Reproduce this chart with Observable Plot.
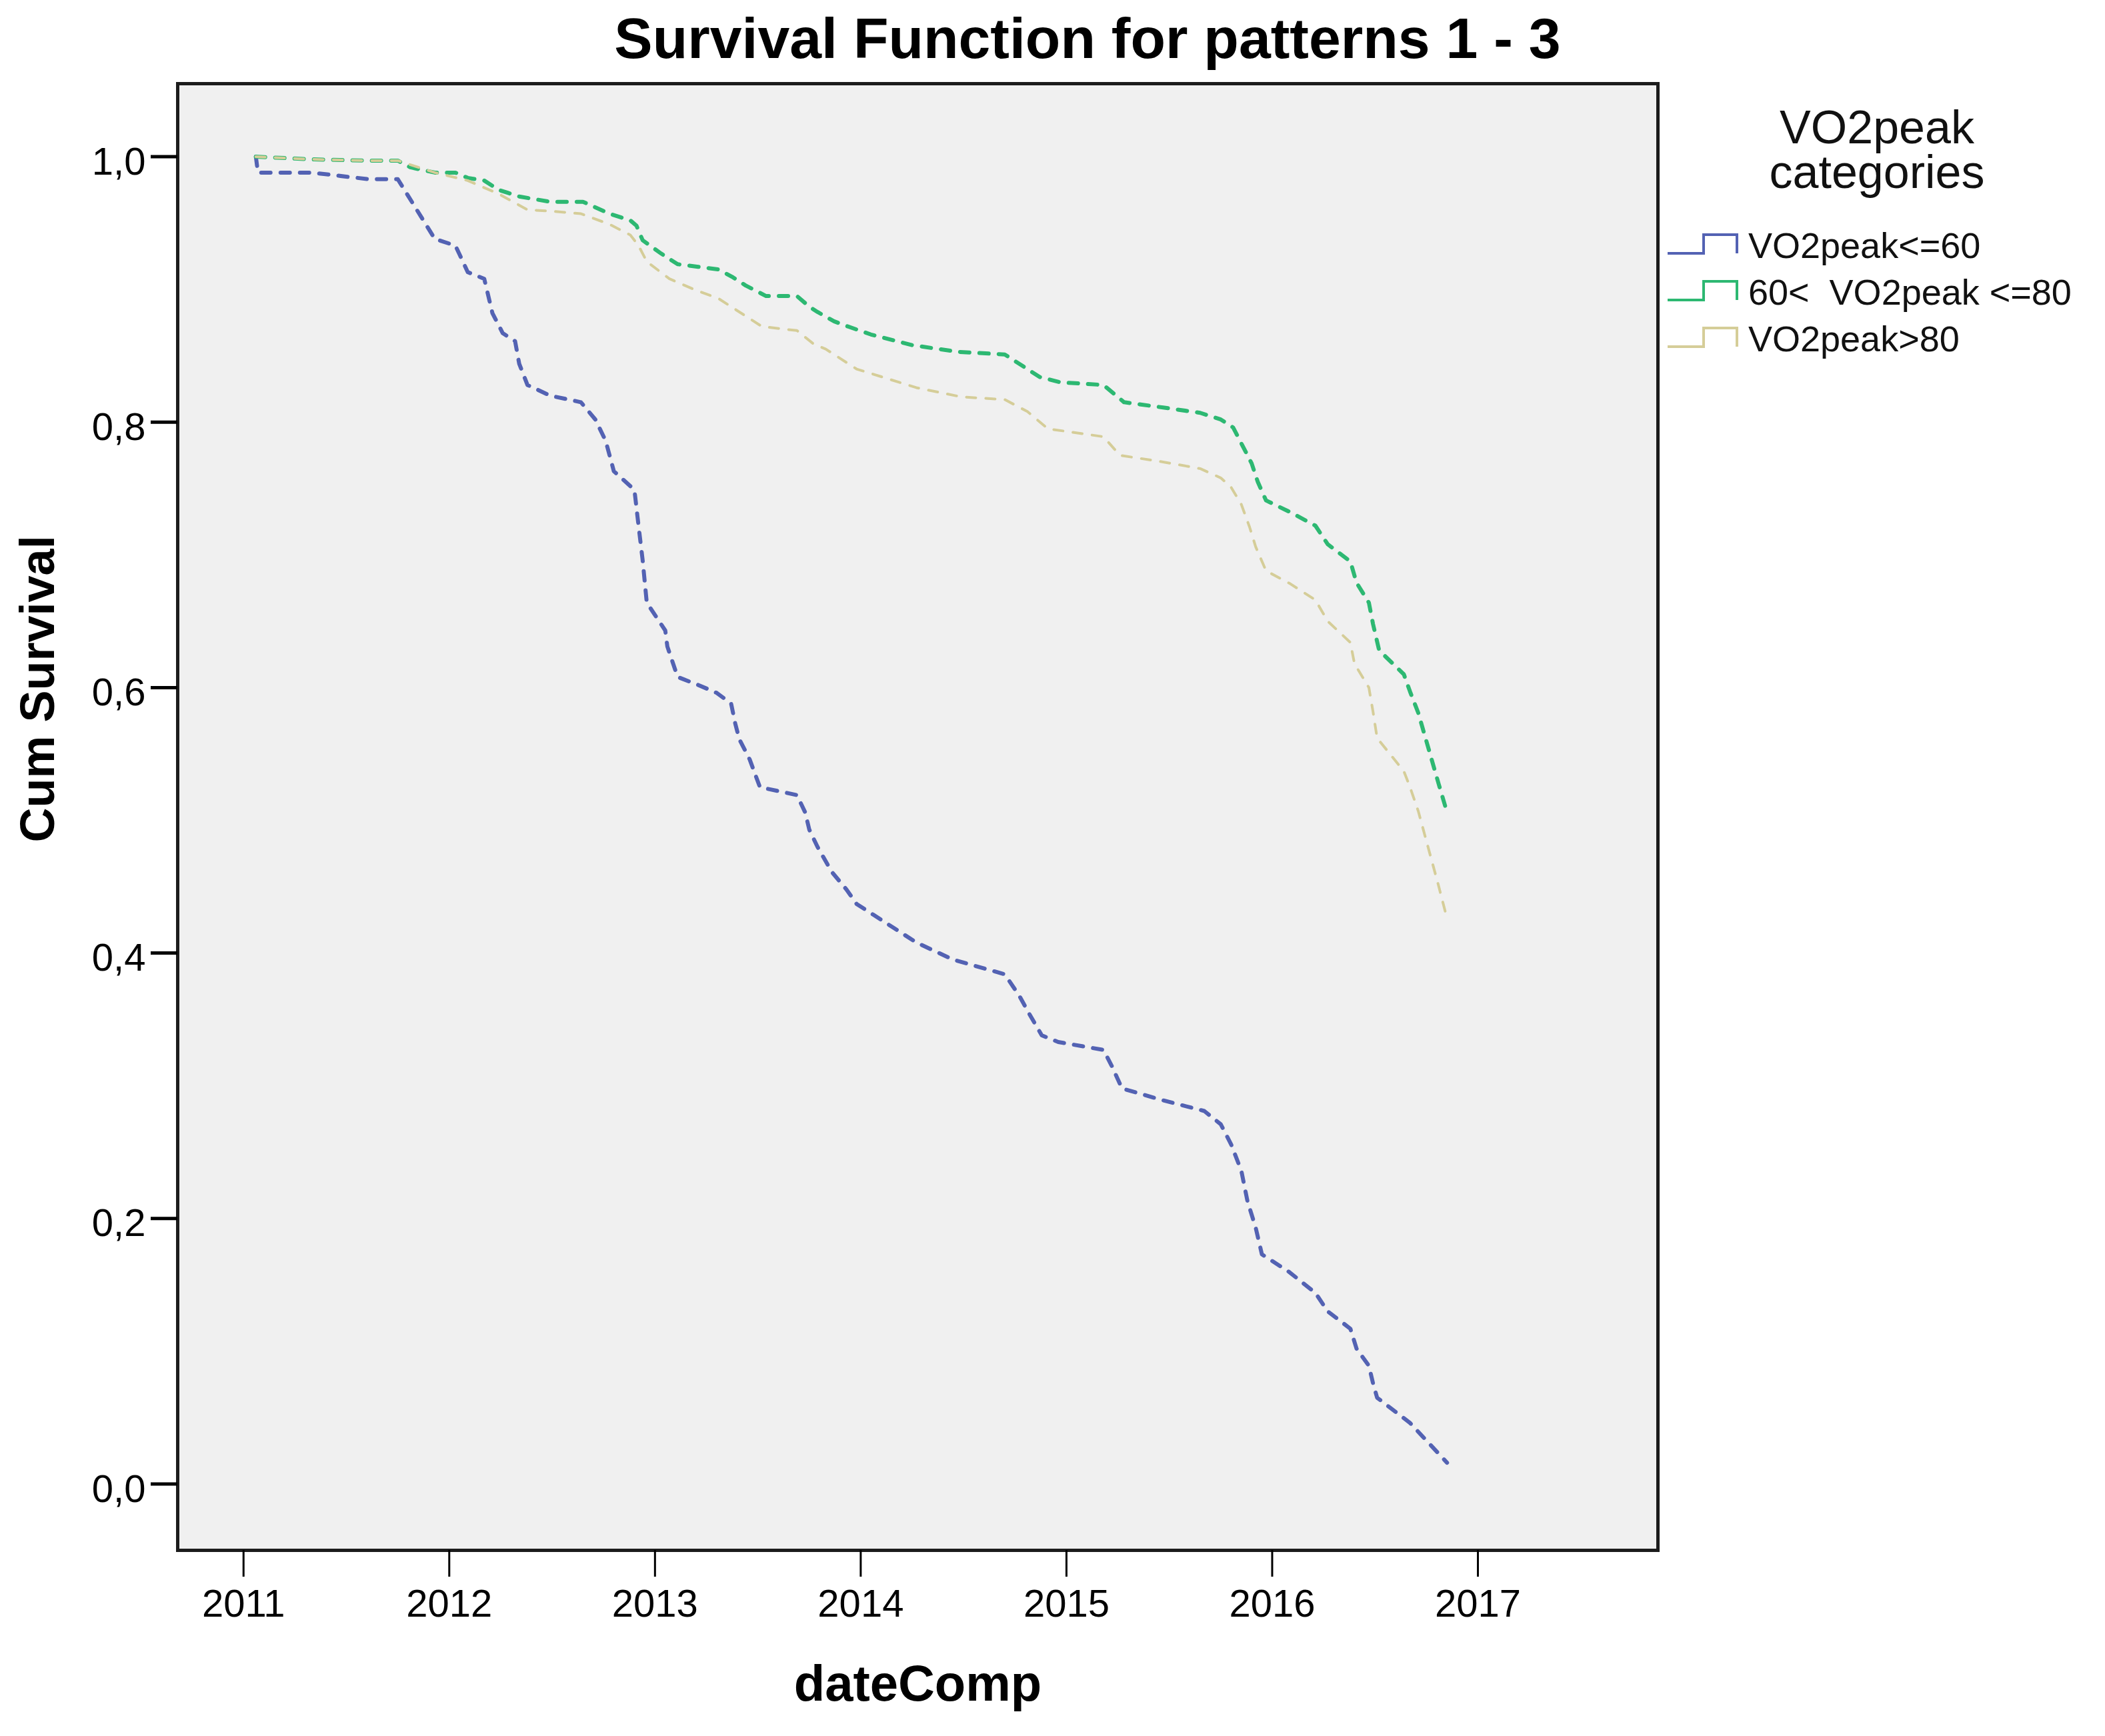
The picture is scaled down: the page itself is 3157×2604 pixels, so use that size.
<!DOCTYPE html>
<html>
<head>
<meta charset="utf-8">
<script src="https://cdn.jsdelivr.net/npm/d3@7"></script>
<script src="https://cdn.jsdelivr.net/npm/@observablehq/plot@0.6"></script>
<style>
  body { margin: 0; background: #fff; font-family: "Liberation Sans", Arial, sans-serif; }
  #wrap { position: relative; width: 3157px; height: 2604px; overflow: hidden; background: #fff; }
  #title { position: absolute; left: 1631px; top: 14px; transform: translateX(-50%);
           font-size: 86px; line-height: 86px; font-weight: bold; white-space: nowrap; color: #000; }
  #chart { position: absolute; left: 0; top: 0; }
  .lgt { position: absolute; left: 2815px; top: 158px; transform: translateX(-50%); font-size: 70px; line-height: 67px;
         white-space: pre; text-align: center; color: #111; }
  .lgi { position: absolute; left: 2622px; font-size: 54px; line-height: 54px; white-space: pre; color: #111; }
  .lgs { position: absolute; left: 2499px; }
</style>
</head>
<body>
<div id="wrap">
  <div id="title">Survival Function for patterns 1 - 3</div>
  <div id="chart"></div>
</div>
<script>
// ---- data ----
const categories = ["VO2peak<=60", "60<  VO2peak <=80", "VO2peak>80"];
const colors = ["#5362b3", "#2db872", "#d5cd98"];
const legendTitle = ["VO2peak", "categories"];

const yearsLow = [2011.06, 2011.07, 2011.33, 2011.61, 2011.75, 2011.93, 2012.03, 2012.09, 2012.17, 2012.21, 2012.26, 2012.32, 2012.34, 2012.38, 2012.49, 2012.64, 2012.71, 2012.76, 2012.80, 2012.90, 2012.92, 2012.94, 2012.96, 2013.05, 2013.06, 2013.11, 2013.21, 2013.30, 2013.37, 2013.39, 2013.41, 2013.46, 2013.51, 2013.69, 2013.73, 2013.75, 2013.79, 2013.86, 2013.93, 2013.98, 2014.06, 2014.16, 2014.27, 2014.45, 2014.70, 2014.77, 2014.82, 2014.88, 2014.96, 2015.18, 2015.22, 2015.27, 2015.47, 2015.67, 2015.75, 2015.80, 2015.85, 2015.88, 2015.92, 2015.95, 2016.08, 2016.21, 2016.27, 2016.38, 2016.41, 2016.47, 2016.49, 2016.51, 2016.67, 2016.85];
const survLow  = [1.000, 0.988, 0.988, 0.983, 0.983, 0.938, 0.933, 0.913, 0.908, 0.882, 0.867, 0.861, 0.844, 0.828, 0.820, 0.815, 0.802, 0.786, 0.763, 0.749, 0.722, 0.696, 0.664, 0.643, 0.631, 0.608, 0.602, 0.596, 0.588, 0.573, 0.561, 0.546, 0.525, 0.519, 0.506, 0.493, 0.480, 0.461, 0.448, 0.437, 0.429, 0.419, 0.408, 0.395, 0.384, 0.368, 0.354, 0.338, 0.333, 0.327, 0.315, 0.298, 0.289, 0.281, 0.271, 0.256, 0.236, 0.213, 0.193, 0.173, 0.160, 0.144, 0.130, 0.117, 0.102, 0.089, 0.076, 0.065, 0.046, 0.016];

const yearsMid = [2011.06, 2011.33, 2011.61, 2011.75, 2011.81, 2011.93, 2012.03, 2012.09, 2012.17, 2012.24, 2012.34, 2012.49, 2012.65, 2012.78, 2012.88, 2012.91, 2012.94, 2013.03, 2013.11, 2013.21, 2013.31, 2013.38, 2013.44, 2013.54, 2013.69, 2013.75, 2013.79, 2013.87, 2013.92, 2014.05, 2014.25, 2014.47, 2014.70, 2014.79, 2014.87, 2014.97, 2015.18, 2015.28, 2015.47, 2015.65, 2015.75, 2015.81, 2015.85, 2015.90, 2015.93, 2015.97, 2016.09, 2016.21, 2016.27, 2016.38, 2016.41, 2016.47, 2016.49, 2016.52, 2016.64, 2016.67, 2016.71, 2016.81, 2016.85];
const survMid  = [1.000, 0.998, 0.997, 0.997, 0.992, 0.988, 0.988, 0.984, 0.982, 0.975, 0.970, 0.966, 0.966, 0.957, 0.952, 0.948, 0.937, 0.927, 0.919, 0.917, 0.915, 0.909, 0.903, 0.895, 0.895, 0.887, 0.883, 0.876, 0.873, 0.866, 0.858, 0.853, 0.851, 0.842, 0.834, 0.830, 0.828, 0.815, 0.811, 0.807, 0.802, 0.796, 0.784, 0.769, 0.755, 0.741, 0.732, 0.722, 0.708, 0.695, 0.679, 0.664, 0.648, 0.628, 0.610, 0.597, 0.581, 0.527, 0.506];

const yearsHigh = [2011.06, 2011.33, 2011.61, 2011.75, 2011.93, 2012.09, 2012.24, 2012.38, 2012.49, 2012.64, 2012.78, 2012.88, 2012.92, 2012.96, 2013.07, 2013.19, 2013.31, 2013.40, 2013.52, 2013.69, 2013.77, 2013.83, 2013.98, 2014.27, 2014.49, 2014.70, 2014.81, 2014.91, 2015.18, 2015.26, 2015.47, 2015.65, 2015.75, 2015.80, 2015.85, 2015.89, 2015.92, 2015.97, 2016.09, 2016.21, 2016.27, 2016.38, 2016.40, 2016.47, 2016.49, 2016.51, 2016.64, 2016.67, 2016.71, 2016.81, 2016.85];
const survHigh  = [1.000, 0.998, 0.997, 0.997, 0.988, 0.982, 0.972, 0.960, 0.959, 0.957, 0.949, 0.941, 0.933, 0.921, 0.908, 0.900, 0.893, 0.884, 0.872, 0.869, 0.859, 0.855, 0.840, 0.826, 0.819, 0.817, 0.808, 0.795, 0.789, 0.775, 0.770, 0.765, 0.758, 0.751, 0.738, 0.721, 0.706, 0.688, 0.678, 0.666, 0.650, 0.634, 0.618, 0.600, 0.582, 0.562, 0.537, 0.525, 0.507, 0.450, 0.426];

const xTicks = [2011, 2012, 2013, 2014, 2015, 2016, 2017];
const yTicks = [0, 0.2, 0.4, 0.6, 0.8, 1.0];

// ---- build table ----
const series = [[yearsLow, survLow], [yearsMid, survMid], [yearsHigh, survHigh]];
const rows = [];
series.forEach(([ys, vs], i) => ys.forEach((y, j) => rows.push({group: categories[i], year: y, surv: vs[j]})));
const of = g => rows.filter(r => r.group === g);

const fmtY = d => d3.format(".1f")(d).replace(".", ",");
const font = "Liberation Sans, Arial, sans-serif";

const chart = Plot.plot({
  width: 3157,
  height: 2604,
  marginLeft: 266,
  marginRight: 671,
  marginTop: 125,
  marginBottom: 279,
  style: {fontFamily: font, background: "transparent", color: "#000", overflow: "visible"},
  x: {domain: [2010.68, 2017.875]},
  y: {domain: [-0.05, 1.055]},
  color: {domain: categories, range: colors},
  marks: [
    Plot.frame({fill: "#f0f0f0", stroke: null}),
    Plot.line(of(categories[0]), {x: "year", y: "surv", stroke: "group", strokeWidth: 6, strokeDasharray: "14,15"}),
    Plot.line(of(categories[1]), {x: "year", y: "surv", stroke: "group", strokeWidth: 6, strokeDasharray: "14,15"}),
    Plot.line(of(categories[2]), {x: "year", y: "surv", stroke: "group", strokeWidth: 4, strokeDasharray: "14,15"}),
    Plot.frame({stroke: "#1c1c1c", strokeWidth: 5}),
    Plot.axisY({ticks: yTicks, tickSize: 40, strokeWidth: 5, fill: "none", label: null}),
    Plot.axisY({ticks: yTicks, tickSize: 40, tickPadding: 8, stroke: "none", dy: 8, fontSize: 58, tickFormat: fmtY, label: null}),
    Plot.axisX({ticks: xTicks, tickSize: 40, strokeWidth: 3, fill: "none", label: null}),
    Plot.axisX({ticks: xTicks, tickSize: 40, tickPadding: 18, stroke: "none", fontSize: 58, tickFormat: d => String(d), label: null}),
    Plot.text(["dateComp"], {text: d => d, frameAnchor: "bottom", dy: 225, lineAnchor: "bottom", fontSize: 76, fontWeight: "bold"}),
    Plot.text(["Cum Survival"], {text: d => d, frameAnchor: "left", rotate: -90, dx: -186, dy: 38, lineAnchor: "bottom", fontSize: 72, fontWeight: "bold"})
  ]
});
document.getElementById("chart").appendChild(chart);

// ---- legend (HTML, right of the plot) ----
const wrap = document.getElementById("wrap");
const lt = document.createElement("div");
lt.className = "lgt";
lt.textContent = legendTitle.join("\n");
wrap.appendChild(lt);

const itemBaselines = [387, 457, 527];
categories.forEach((c, i) => {
  const b = itemBaselines[i];
  const s = document.createElementNS("http://www.w3.org/2000/svg", "svg");
  s.setAttribute("class", "lgs");
  s.setAttribute("width", 112);
  s.setAttribute("height", 36);
  s.style.top = (b - 38) + "px";
  const p = document.createElementNS("http://www.w3.org/2000/svg", "path");
  p.setAttribute("d", "M2,31 H56 V3 H106 V31");
  p.setAttribute("fill", "none");
  p.setAttribute("stroke", colors[i]);
  p.setAttribute("stroke-width", 4);
  s.appendChild(p);
  wrap.appendChild(s);
  const d = document.createElement("div");
  d.className = "lgi";
  d.style.top = (b - 46) + "px";
  d.textContent = c;
  wrap.appendChild(d);
});
</script>
</body>
</html>
